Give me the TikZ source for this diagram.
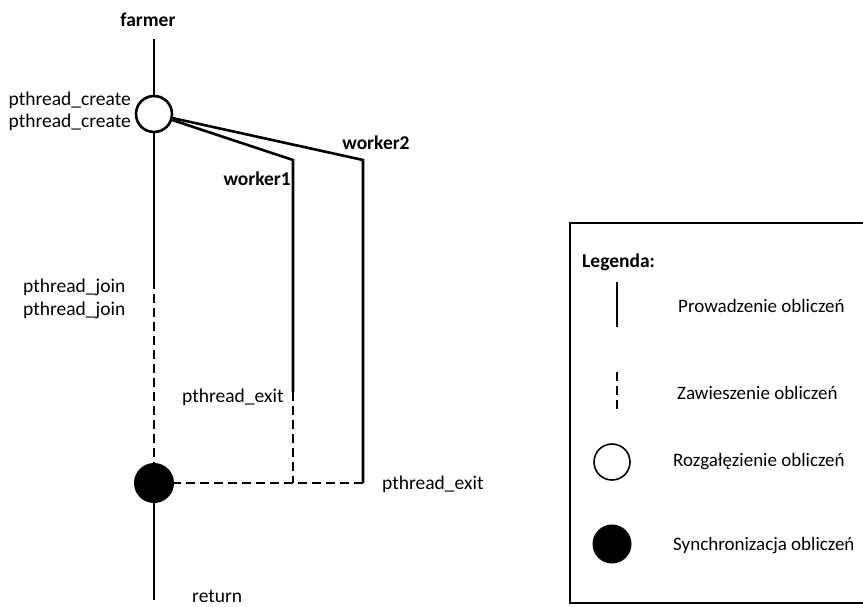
\documentclass[tikz,border=0pt]{standalone}
\usepackage{fontspec}
\setmainfont{Carlito}
\begin{document}
\begin{tikzpicture}[x=1pt,y=-1pt,
  flow/.style={line width=2.6pt},
  wait/.style={line width=2.6pt,dash pattern=on 9pt off 5pt},
  fork/.style={circle,draw,line width=2.6pt,fill=white,minimum size=36pt,inner sep=0pt},
  sync/.style={circle,fill=black,minimum size=40pt,inner sep=0pt},
  lbl/.style={font=\fontsize{19.5}{22}\selectfont,inner sep=0pt},
  blbl/.style={font=\fontsize{19.5}{22}\selectfont\bfseries,inner sep=0pt},
  leg/.style={font=\fontsize{19}{22}\selectfont,inner sep=0pt}]
\useasboundingbox (0,0) rectangle (863,606);

% farmer thread
\node[blbl] (farmer) at (148,20) {farmer};
\coordinate (start) at (154,39);
\node[fork] (split) at (154,114) {};
\coordinate (joinstart) at (154,280);
\node[sync] (join) at (154,483) {};
\coordinate (end) at (154,600);

\draw[flow] (start) -- (split);
\draw[flow] (split) -- (joinstart);
\draw[wait] (joinstart) -- (join);
\draw[flow] (join) -- (end);

% worker threads
\coordinate (w1top) at (293,160);
\coordinate (w1exit) at (293,392);
\coordinate (w1end) at (293,483);
\coordinate (w2top) at (363,160);
\coordinate (w2end) at (363,483);

\draw[flow] (split) -- (w1top) -- (w1exit);
\draw[wait] (w1exit) -- (w1end);
\draw[flow] (split) -- (w2top) -- (w2end);
\draw[wait] (w2end) -- (join);

% labels
\node[lbl,anchor=east] (c1) at (131,100) {pthread\_create};
\node[lbl,anchor=east] (c2) at (131,122) {pthread\_create};
\node[blbl,anchor=east] (w1) at (291,179) {worker1};
\node[blbl] (w2) at (376,143) {worker2};
\node[lbl,anchor=west] (j1) at (23,287) {pthread\_join};
\node[lbl,anchor=west] (j2) at (23,310) {pthread\_join};
\node[lbl,anchor=west] (e1) at (182,397) {pthread\_exit};
\node[lbl,anchor=west] (e2) at (382,484) {pthread\_exit};
\node[lbl,anchor=west] (ret) at (192,596) {return};

% legend
\draw[line width=1.4pt] (863,223) -- (570,223) -- (570,603) -- (863,603);
\node[blbl,anchor=west] (legtitle) at (582,262) {Legenda:};
\coordinate (ls1) at (617,282);
\coordinate (ls2) at (617,327);
\draw[line width=2pt] (ls1) -- (ls2);
\node[leg,anchor=west] (lt1) at (678,306) {Prowadzenie obliczeń};
\coordinate (ld1) at (617,372);
\coordinate (ld2) at (617,412);
\draw[line width=2pt,dash pattern=on 9pt off 5pt] (ld1) -- (ld2);
\node[leg,anchor=west] (lt2) at (677,393) {Zawieszenie obliczeń};
\node[circle,draw,line width=1.6pt,minimum size=36pt,inner sep=0pt] (lfork) at (612,462) {};
\node[leg,anchor=west] (lt3) at (673,462) {Rozgałęzienie obliczeń};
\node[sync,minimum size=39pt] (lsync) at (612,544) {};
\node[leg,anchor=west] (lt4) at (673,546) {Synchronizacja obliczeń};
\end{tikzpicture}
\end{document}
